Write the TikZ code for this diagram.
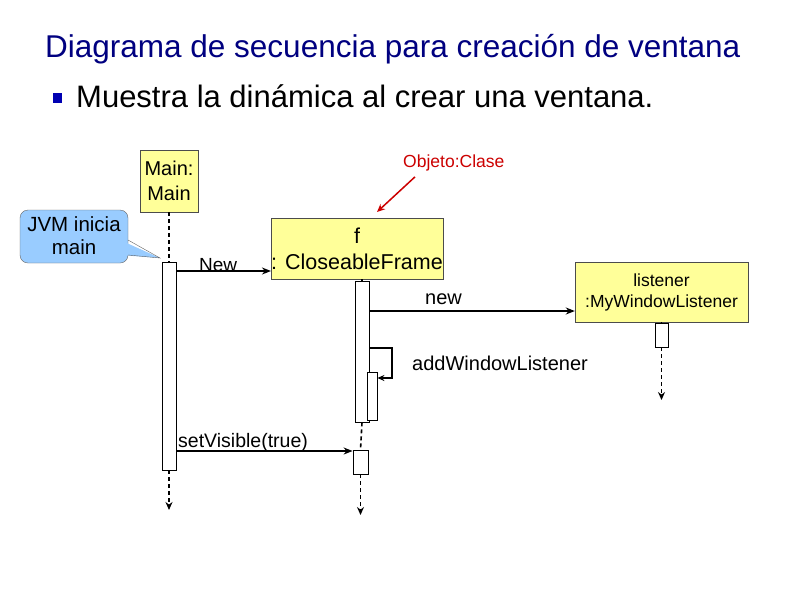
\documentclass[tikz,border=0pt]{standalone}
\usepackage{fontspec}
\setmainfont{Liberation Sans}
\usetikzlibrary{arrows.meta}
\definecolor{box}{RGB}{255,255,153}
\definecolor{callout}{RGB}{153,204,255}
\definecolor{navy}{RGB}{0,0,128}
\tikzset{
  obj/.style={draw=black!70,fill=box,align=center,inner sep=0pt},
  act/.style={draw=black,fill=white,line width=0.8pt},
  dl/.style={line width=1.6pt,dash pattern=on 4pt off 3pt},
  life/.style={dl,-{Stealth[length=8pt,width=7pt]}},
  msg/.style={line width=1.5pt,-{Stealth[length=9pt,width=7pt]}},
  lbl/.style={inner sep=0pt,anchor=base west},
}
\begin{document}
\begin{tikzpicture}[x=1pt,y=-1pt]
\useasboundingbox (0,0) rectangle (794,595);
\fill[white] (0,0) rectangle (794,595);
\node[lbl,text=navy,font=\fontsize{31.5}{34}\selectfont] (title) at (45,57) {Diagrama de secuencia para creación de ventana};
\fill[blue!70!black] (53,93) rectangle (62,103);
\node[lbl,font=\fontsize{31}{34}\selectfont] (sub) at (76,107) {Muestra la dinámica al crear una ventana.};
% objects
\node[obj,minimum width=58pt,minimum height=62pt,font=\fontsize{20}{25}\selectfont] (main) at (169,181) {Main:\\Main};
\node[obj,minimum width=170pt,minimum height=61pt,font=\fontsize{21.5}{26}\selectfont] (f) at (357,248.5) {f\\: CloseableFrame};
\node[obj,minimum width=173pt,minimum height=60pt,font=\fontsize{17.5}{21}\selectfont] (lis) at (661.5,292) {listener\\:MyWindowListener};
% callout
\fill[callout,draw=black!60,rounded corners=8pt] (20,210) rectangle (128,263);
\fill[callout] (120,240) -- (160,258) -- (120,255) -- cycle;
\draw[black!60] (128,240) -- (160,258) -- (128,255);
\node[align=center,font=\fontsize{20.5}{23}\selectfont] (jvm) at (74,236) {JVM inicia\\main};
% activations
\node[act,minimum width=14pt,minimum height=208pt,inner sep=0pt] (am) at (169,366) {};
\node[act,minimum width=14pt,minimum height=141pt,inner sep=0pt] (af) at (362,351.5) {};
\node[act,minimum width=10pt,minimum height=48pt,inner sep=0pt] (af2) at (372,396) {};
\node[act,minimum width=15pt,minimum height=24pt,inner sep=0pt] (af3) at (360.5,462) {};
\node[act,minimum width=13pt,minimum height=24pt,inner sep=0pt] (al) at (661.5,335) {};
% lifelines
\draw[dl] (main.south) -- (am.north);
\draw[dl] (f.south -| af.north) -- (af.north);
\draw[dl] (lis.south -| al.north) -- (al.north);
\coordinate (em) at (169,510);
\coordinate (ef) at (360.5,515);
\coordinate (el) at (661.5,400);
\draw[life] (am.south) -- (em);
\draw[dl] (af.south) -- (af3.north);
\draw[life] (af3.south) -- (ef);
\draw[life] (al.south) -- (el);
% messages
\draw[msg] (am.north east |- 0,271) -- (f.west |- 0,271) coordinate (n1);
\node[lbl,font=\fontsize{19}{22}\selectfont] (lnew) at (199,271) {New};
\draw[msg] (af.north east |- 0,311) -- (lis.west |- 0,311);
\node[lbl,font=\fontsize{20}{22}\selectfont] (lnew2) at (425,304) {new};
\draw[line width=1.5pt,-{Stealth[length=7pt,width=6pt]}] (af.east |- 0,348) -- (392,348) -- (392,378) -- (af2.east |- 0,378);
\node[lbl,font=\fontsize{20}{22}\selectfont] (ladd) at (412,370) {addWindowListener};
\draw[msg] (am.east |- 0,451) -- (af3.west |- 0,451);
\node[lbl,font=\fontsize{19.5}{22}\selectfont] (lset) at (178,447) {setVisible(true)};
% red annotation
\node[lbl,text=red!80!black,font=\fontsize{17.5}{20}\selectfont] (oc) at (403,167) {Objeto:Clase};
\draw[red!80!black,line width=1.5pt,-{Stealth[length=8pt,width=7pt]}] (oc.south west) ++(12,6) -- (377,212);
\end{tikzpicture}
\end{document}
